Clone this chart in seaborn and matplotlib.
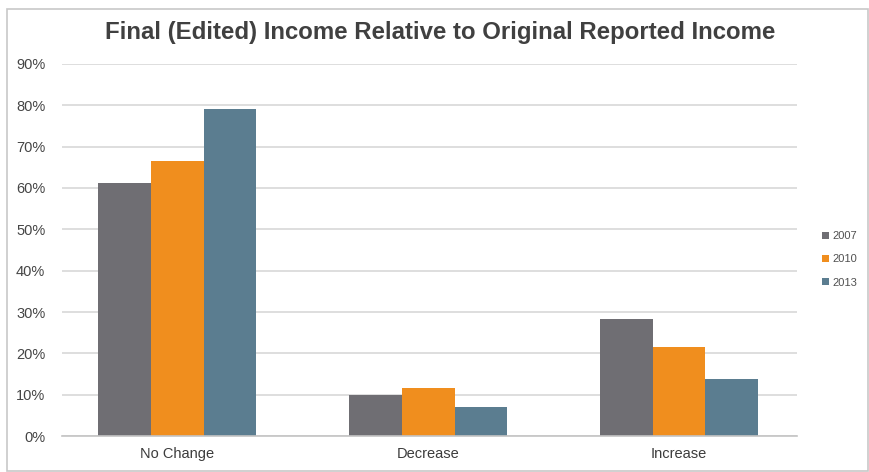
import matplotlib
matplotlib.use("Agg")
import matplotlib.pyplot as plt
from matplotlib.patches import Rectangle
from matplotlib.ticker import PercentFormatter
import seaborn as sns
import pandas as pd

# Share of returns by how the final (edited) income compares with the reported one
categories = ["No Change", "Decrease", "Increase"]
years = ["2007", "2010", "2013"]
share_2007 = [61.3, 9.9, 28.4]
share_2010 = [66.5, 11.7, 21.6]
share_2013 = [79.0, 7.1, 13.8]
y_ticks = [0, 10, 20, 30, 40, 50, 60, 70, 80, 90]
colors = ["#6f6e73", "#f08e1e", "#5b7d90"]

df = pd.DataFrame({
    "category": categories * 3,
    "year": [y for y in years for _ in categories],
    "share": share_2007 + share_2010 + share_2013,
})

sns.set_theme(style="white")
plt.rcParams["font.family"] = ["Liberation Sans", "DejaVu Sans"]

W, H = 870, 472
fig = plt.figure(figsize=(W / 100, H / 100), dpi=100)
ax = fig.add_axes([62 / W, 1 - 436 / H, (797 - 62) / W, (436 - 64) / H])

sns.barplot(data=df, x="category", y="share", hue="year", order=categories,
            hue_order=years, palette=colors, saturation=1, width=0.63,
            errorbar=None, ax=ax, linewidth=0)

ax.set_ylim(0, 90)
ax.set_xlim(-0.46, 2.47)
ax.set_yticks(y_ticks)
ax.yaxis.set_major_formatter(PercentFormatter(decimals=0))
ax.grid(axis="y", color="#d4d4d4", linewidth=1.1)
ax.set_axisbelow(True)
for side in ["left", "right", "top"]:
    ax.spines[side].set_visible(False)
ax.spines["bottom"].set_color("#c4c4c4")
ax.spines["bottom"].set_linewidth(1.2)
ax.set_xlabel("")
ax.set_ylabel("")
ax.tick_params(axis="y", length=0, pad=12, labelsize=10.5, labelcolor="#454545")
ax.tick_params(axis="x", length=0, pad=8, labelsize=10.5, labelcolor="#3c3c3c")

leg = ax.legend(loc="center left", bbox_to_anchor=(812 / W, 1 - 259.5 / H),
                bbox_transform=fig.transFigure, frameon=False, fontsize=8,
                handlelength=0.6, handleheight=0.6, handletextpad=0.3,
                labelspacing=1.2, labelcolor="#505050")

fig.text(440 / W, 1 - 33 / H,
         "Final (Edited) Income Relative to Original Reported Income",
         ha="center", va="center", fontsize=17.3, fontweight="bold",
         color="#404040")

# light frame around the whole chart
fig.patches.append(Rectangle((7 / W, 1 - 471 / H), (868 - 7) / W, (471 - 9) / H,
                             transform=fig.transFigure, fill=False,
                             edgecolor="#c8c8c8", linewidth=1.2))

fig.savefig("out.png", dpi=100)
